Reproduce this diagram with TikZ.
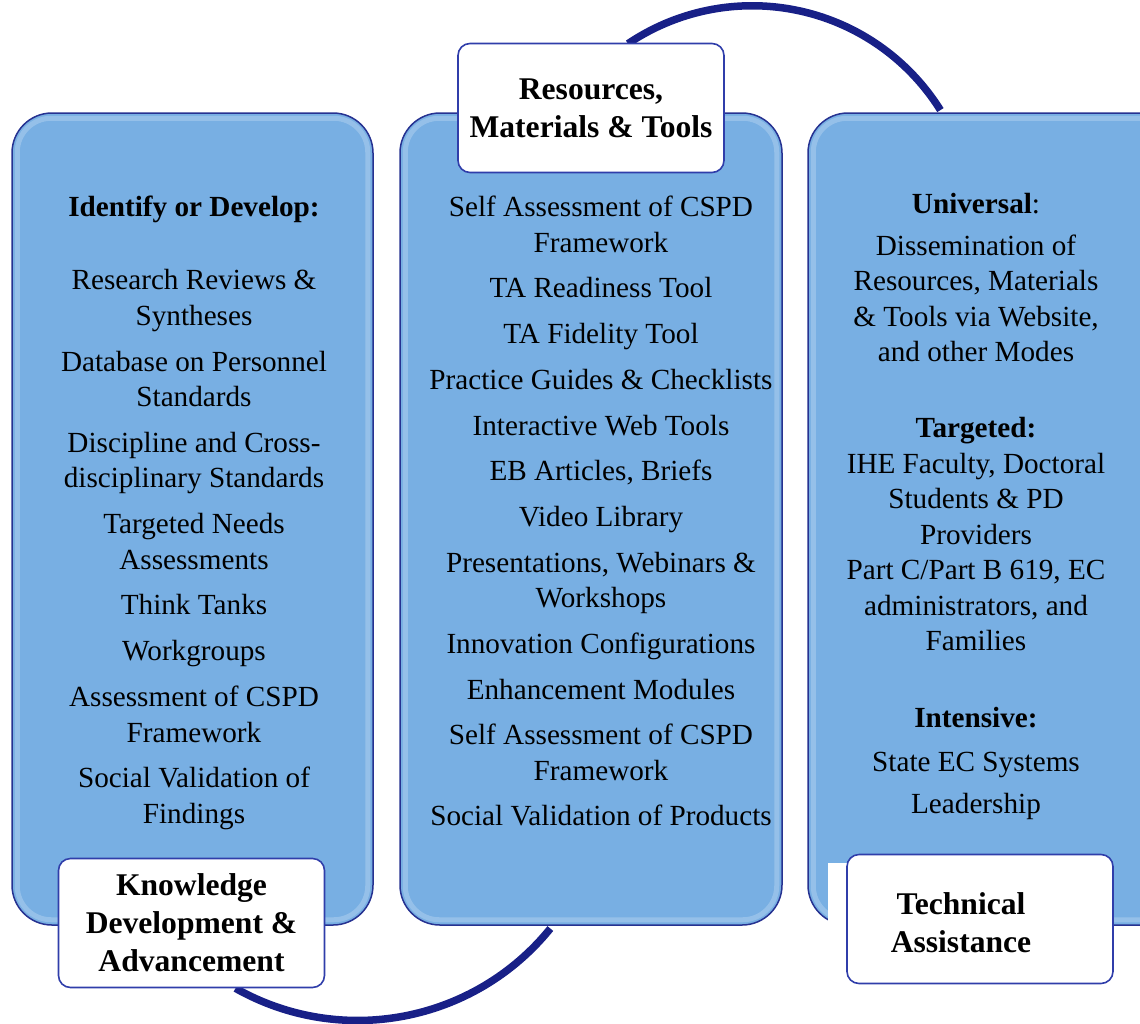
\documentclass[tikz,border=0pt]{standalone}
\usepackage{fontspec}
\setmainfont{Liberation Serif}
\usetikzlibrary{backgrounds, calc}
\definecolor{panelblue}{RGB}{120,175,227}
\definecolor{panelline}{RGB}{38,50,145}
\definecolor{boxline}{RGB}{48,62,170}
\definecolor{arcblue}{RGB}{24,32,135}

\begin{document}
\begin{tikzpicture}[
    x=1pt, y=-1pt,
    % Node styles
    panel/.style={rectangle, draw=panelline, line width=1.5pt, fill=panelblue, rounded corners=40pt, inner sep=0pt, minimum height=812pt},
    panelglow/.style={draw=white, opacity=0.22, line width=5pt, rounded corners=34pt},
    labelbox/.style={rectangle, draw=boxline, line width=1.6pt, fill=white, rounded corners=12pt, minimum width=266pt, minimum height=129pt, inner sep=0pt},
    bodytext/.style={align=center, inner sep=0pt, anchor=north, font=\fontsize{29.2}{35.5}\selectfont},
    titletext/.style={align=center, inner sep=0pt, font=\bfseries\fontsize{31.6}{38}\selectfont},
    cyclearc/.style={draw=arcblue, line width=7.5pt},
]
\useasboundingbox (0,0) rectangle (1140,1023);

% Panels
\node[panel, minimum width=361pt] (lpanel) at (192.5,519) {};
\node[panel, minimum width=382pt] (cpanel) at (591,519) {};
\node[panel, minimum width=400pt] (rpanel) at (1008,519) {};
\draw[panelglow] ($(lpanel.north west)+(6,6)$) rectangle ($(lpanel.south east)+(-6,-6)$);
\draw[panelglow] ($(cpanel.north west)+(6,6)$) rectangle ($(cpanel.south east)+(-6,-6)$);
\draw[panelglow] ($(rpanel.north west)+(6,6)$) rectangle ($(rpanel.south east)+(-6,-6)$);
\fill[white] (828,863) rectangle (848,930);

% Panel contents
\node[bodytext] (ltext) at (194,196) {\textbf{Identify or Develop:}\\[37.5pt]
Research Reviews \&\\Syntheses\\[10.3pt]
Database on Personnel\\Standards\\[10.3pt]
Discipline and Cross-\\disciplinary Standards\\[10.3pt]
Targeted Needs\\Assessments\\[10.3pt]
Think Tanks\\[10.3pt]
Workgroups\\[10.3pt]
Assessment of CSPD\\Framework\\[10.3pt]
Social Validation of\\Findings};

\node[bodytext] (ctext) at (601,196) {Self Assessment of CSPD\\Framework\\[10.2pt]
TA Readiness Tool\\[10.2pt]
TA Fidelity Tool\\[10.2pt]
Practice Guides \& Checklists\\[10.2pt]
Interactive Web Tools\\[10.2pt]
EB Articles, Briefs\\[10.2pt]
Video Library\\[10.2pt]
Presentations, Webinars \&\\Workshops\\[10.2pt]
Innovation Configurations\\[10.2pt]
Enhancement Modules\\[10.2pt]
Self Assessment of CSPD\\Framework\\[10.2pt]
Social Validation of Products};

\node[bodytext] (rtext) at (976,193) {\textbf{Universal}:\\[6.5pt]
Dissemination of\\Resources, Materials\\\& Tools via Website,\\and other Modes\\[40.5pt]
\textbf{Targeted:}\\
IHE Faculty, Doctoral\\Students \& PD\\Providers\\
Part C/Part B 619, EC\\administrators, and\\Families\\[41.5pt]
\textbf{Intensive:}\\[8.5pt]
State EC Systems\\[6.5pt]
Leadership};

% Label boxes
\node[labelbox, titletext] (cbox) at (591,108) {Resources,\\Materials \& Tools};
\node[labelbox, titletext] (lbox) at (191.5,923) {Knowledge\\Development \&\\Advancement};
\node[labelbox] (rbox) at (980,919) {};
\node[titletext] (rtitle) at (961,923) {Technical\\Assistance};

% Cycle arcs
\begin{scope}[on background layer]
\draw[cyclearc] ($(cbox.north)+(37,1)$) arc[start angle=-124, end angle=-32, radius=222];
\draw[cyclearc] ($(lbox.south)+(44,0)$) arc[start angle=119.5, end angle=39, radius=248];
\end{scope}

\end{tikzpicture}
\end{document}
